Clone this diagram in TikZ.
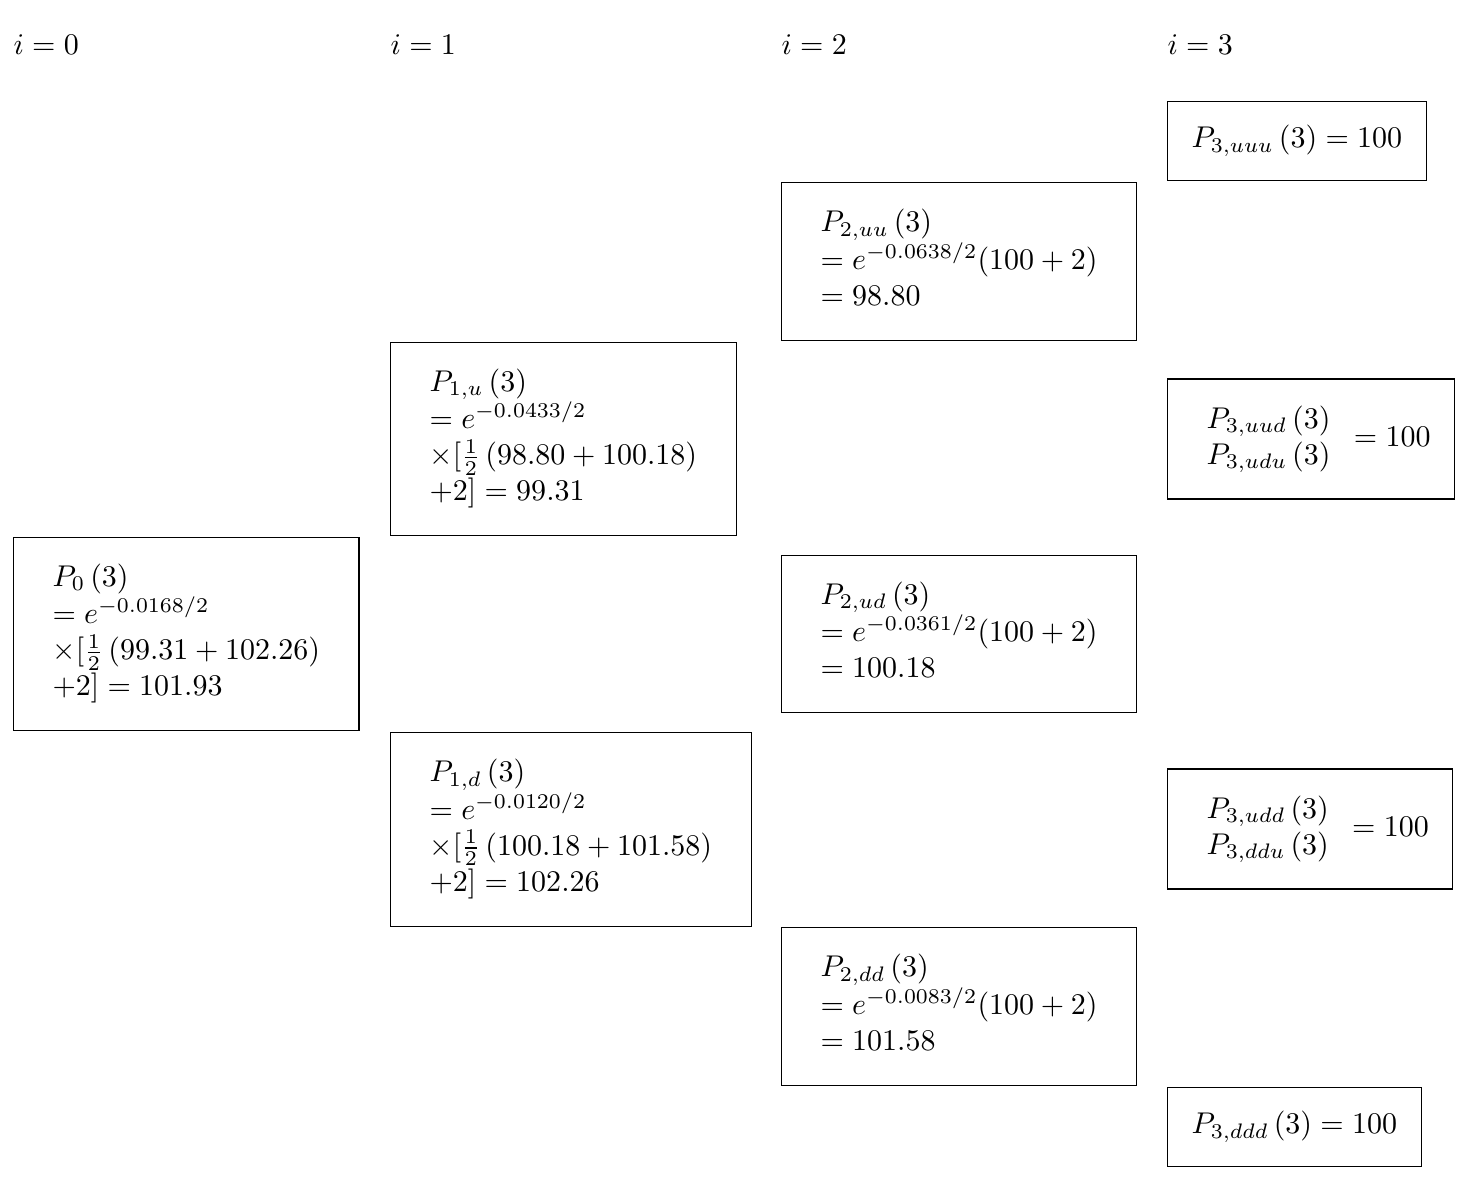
\documentclass[tikz,border=0pt]{standalone}
\usepackage{amsmath}

\tikzset{
    stage/.style={anchor=base west, inner sep=0pt},
    box/.style={draw, anchor=west, inner sep=8pt}
}

\begin{document}
\begin{tikzpicture}
    \useasboundingbox (0,0) rectangle (17.116,-13.847);

    % i = 0
    \node[stage] (h0) at (0.152,-0.644) {$i=0$};
    \node[box] (p0) at (0.152,-7.427)
        {$\begin{array}{l} P_0\left(3\right)\\ =e^{-0.0168/2}\\ \times[\frac{1}{2}\left(99.31+102.26\right)\\ +2]=101.93 \end{array}$};

    % i = 1
    \node[stage] (h1) at (4.569,-0.644) {$i=1$};
    \node[box] (p1u) at (4.569,-5.143)
        {$\begin{array}{l} P_{1,u}\left(3\right)\\ =e^{-0.0433/2}\\ \times[\frac{1}{2}\left(98.80+100.18\right)\\ +2]=99.31 \end{array}$};
    \node[box] (p1d) at (4.569,-9.718)
        {$\begin{array}{l} P_{1,d}\left(3\right)\\ =e^{-0.0120/2}\\ \times[\frac{1}{2}\left(100.18+101.58\right)\\ +2]=102.26 \end{array}$};

    % i = 2
    \node[stage] (h2) at (9.149,-0.644) {$i=2$};
    \node[box] (p2uu) at (9.149,-3.063)
        {$\begin{array}{l} P_{2,uu}\left(3\right)\\ =e^{-0.0638/2}(100+2)\\ =98.80 \end{array}$};
    \node[box] (p2ud) at (9.149,-7.427)
        {$\begin{array}{l} P_{2,ud}\left(3\right)\\ =e^{-0.0361/2}(100+2)\\ =100.18 \end{array}$};
    \node[box] (p2dd) at (9.149,-11.791)
        {$\begin{array}{l} P_{2,dd}\left(3\right)\\ =e^{-0.0083/2}(100+2)\\ =101.58 \end{array}$};

    % i = 3
    \node[stage] (h3) at (13.671,-0.644) {$i=3$};
    \node[box] (p3uuu) at (13.671,-1.652) {$P_{3,uuu}\left(3\right)=100$};
    \node[box] (p3uud) at (13.671,-5.143)
        {$\begin{array}{l} P_{3,uud}\left(3\right)\\ P_{3,udu}\left(3\right) \end{array}=100$};
    \node[box] (p3udd) at (13.671,-9.712)
        {$\begin{array}{l} P_{3,udd}\left(3\right)\\ P_{3,ddu}\left(3\right) \end{array}=100$};
    \node[box] (p3ddd) at (13.671,-13.203) {$P_{3,ddd}\left(3\right)=100$};
\end{tikzpicture}
\end{document}
